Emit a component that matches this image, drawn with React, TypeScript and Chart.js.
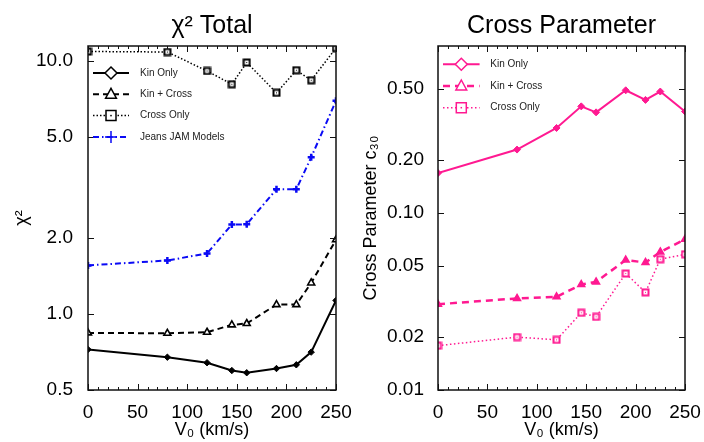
import React, { useEffect, useRef } from 'react';
import { Chart, registerables } from 'chart.js';

Chart.register(...registerables);

// ---- data ----
const V0 = [0, 80, 120, 145, 160, 190, 210, 225, 250];

const chiKinOnly = [0.723, 0.674, 0.641, 0.597, 0.585, 0.608, 0.629, 0.706, 1.13];
const chiKinCross = [0.841, 0.838, 0.846, 0.905, 0.916, 1.088, 1.088, 1.325, 1.963];
const chiCrossOnly = [10.9, 10.85, 9.13, 8.09, 9.86, 7.48, 9.19, 8.39, 11.25];
const chiJeans = [1.555, 1.626, 1.733, 2.256, 2.26, 3.11, 3.11, 4.16, 6.96];

const c30KinOnly = [0.168, 0.228, 0.302, 0.4, 0.37, 0.493, 0.435, 0.485, 0.374];
const c30KinCross = [0.0305, 0.0329, 0.0336, 0.0394, 0.0408, 0.0542, 0.0525, 0.0602, 0.071];
const c30CrossOnly = [0.0178, 0.0199, 0.0192, 0.0273, 0.0259, 0.0455, 0.0356, 0.0548, 0.0584];

const chiTicks = [0.5, 1, 2, 5, 10];
const c30Ticks = [0.01, 0.02, 0.05, 0.1, 0.2, 0.5];

const leftLabels = ['Kin Only', 'Kin + Cross', 'Cross Only', 'Jeans JAM Models'];
const rightLabels = ['Kin Only', 'Kin + Cross', 'Cross Only'];

const FONT = "'Liberation Sans', Arial, Helvetica, sans-serif";
const BLUE = 'rgb(10,10,245)';
const PINK = 'rgb(255,25,145)';

function squareDot(color: string) {
  const c = document.createElement('canvas');
  c.width = 9;
  c.height = 9;
  const g = c.getContext('2d')!;
  g.fillStyle = '#fff';
  g.fillRect(1, 1, 7, 7);
  g.strokeStyle = color;
  g.lineWidth = 2;
  g.strokeRect(1.5, 1.5, 6, 6);
  g.fillStyle = color;
  g.fillRect(4, 4, 1, 1);
  return c;
}

function pts(ys: number[]) {
  return V0.map((v, i) => ({ x: v, y: ys[i] }));
}

function drawMarker(ctx: CanvasRenderingContext2D, kind: string, x: number, y: number, r: number, color: string) {
  ctx.save();
  ctx.setLineDash([]);
  ctx.strokeStyle = color;
  ctx.fillStyle = '#fff';
  ctx.lineWidth = 1.5;
  ctx.beginPath();
  if (kind === 'diamond') {
    ctx.moveTo(x, y - r);
    ctx.lineTo(x + r, y);
    ctx.lineTo(x, y + r);
    ctx.lineTo(x - r, y);
    ctx.closePath();
    ctx.fill();
    ctx.stroke();
  } else if (kind === 'triangle') {
    ctx.moveTo(x, y - r);
    ctx.lineTo(x + r * 0.9, y + r * 0.65);
    ctx.lineTo(x - r * 0.9, y + r * 0.65);
    ctx.closePath();
    ctx.fill();
    ctx.stroke();
  } else if (kind === 'square') {
    ctx.rect(x - r, y - r, 2 * r, 2 * r);
    ctx.fill();
    ctx.stroke();
    ctx.fillStyle = color;
    ctx.fillRect(x - 0.75, y - 0.75, 1.5, 1.5);
  } else if (kind === 'cross') {
    ctx.moveTo(x - r, y);
    ctx.lineTo(x + r, y);
    ctx.moveTo(x, y - r);
    ctx.lineTo(x, y + r);
    ctx.stroke();
  }
  ctx.restore();
}

const frameLegend = {
  id: 'frameLegend',
  afterDatasetsDraw(chart: any, _args: any, opts: any) {
    const { ctx, chartArea, scales } = chart;
    const { left, right, top, bottom } = chartArea;
    const xs = scales.x;
    const ys = scales.y;
    ctx.save();
    ctx.strokeStyle = '#111';
    ctx.lineWidth = 1;
    ctx.setLineDash([]);
    ctx.beginPath();
    for (let v = 0; v <= 250; v += 10) {
      const px = Math.round(xs.getPixelForValue(v)) + 0.5;
      const len = v % 50 === 0 ? 6 : 3;
      ctx.moveTo(px, bottom);
      ctx.lineTo(px, bottom - len);
      ctx.moveTo(px, top);
      ctx.lineTo(px, top + len);
    }
    for (const t of opts.yTicks) {
      const py = Math.round(ys.getPixelForValue(t)) + 0.5;
      ctx.moveTo(left, py);
      ctx.lineTo(left + 6, py);
      ctx.moveTo(right, py);
      ctx.lineTo(right - 6, py);
    }
    ctx.stroke();
    ctx.lineWidth = 1.5;
    ctx.strokeRect(left, top, right - left, bottom - top);

    // legend
    const L = opts.legend;
    ctx.font = `10px ${FONT}`;
    ctx.textBaseline = 'middle';
    ctx.textAlign = 'left';
    chart.data.datasets.forEach((ds: any, i: number) => {
      const y = top + L.y0 + i * L.dy;
      ctx.save();
      ctx.strokeStyle = ds.borderColor;
      ctx.lineWidth = ds.borderWidth;
      ctx.setLineDash(ds.borderDash || []);
      ctx.beginPath();
      ctx.moveTo(left + L.x0, y);
      ctx.lineTo(left + L.x1, y);
      ctx.stroke();
      ctx.restore();
      drawMarker(ctx, ds.legendMarker, left + L.mx, y, ds.legendMarker === 'square' ? 5 : 6, ds.borderColor);
      ctx.fillStyle = '#222';
      ctx.fillText(ds.label, left + L.tx, y);
    });
    ctx.restore();
  },
};

function makeConfig(p: any) {
  return {
    type: 'line',
    data: { datasets: p.datasets },
    plugins: [frameLegend],
    options: {
      animation: false,
      responsive: false,
      maintainAspectRatio: false,
      layout: { padding: { left: 0, right: p.padRight, top: 0, bottom: 0 } },
      plugins: {
        legend: { display: false },
        tooltip: { enabled: false },
        title: {
          display: true,
          fullSize: false,
          text: p.title,
          color: '#000',
          font: { family: FONT, size: 25, weight: 'normal' },
          padding: { top: 11, bottom: 5 },
        },
        frameLegend: { yTicks: p.yTicks, legend: p.legend },
      },
      scales: {
        x: {
          type: 'linear',
          min: 0,
          max: 250,
          ticks: {
            stepSize: 50,
            color: '#000',
            font: { family: FONT, size: 19 },
            padding: 3,
            maxRotation: 0,
            autoSkip: false,
          },
          grid: { display: false },
          border: { display: false },
          title: {
            display: true,
            text: 'V₀ (km/s)',
            color: '#000',
            font: { family: FONT, size: 18 },
            padding: { top: 0, bottom: 1 },
          },
          afterFit: (s: any) => {
            s.height = 52;
            s.paddingLeft = 0;
            s.paddingRight = 0;
          },
        },
        y: {
          type: 'logarithmic',
          min: p.yMin,
          max: p.yMax,
          afterBuildTicks: (s: any) => {
            s.ticks = p.yTicks.map((v: number) => ({ value: v }));
          },
          ticks: {
            color: '#000',
            font: { family: FONT, size: 19 },
            padding: p.yPad,
            callback: (v: any) => Number(v).toFixed(p.decimals),
          },
          grid: { display: false },
          border: { display: false },
          title: {
            display: true,
            text: p.yTitle,
            color: '#000',
            font: { family: FONT, size: 18 },
            padding: { top: p.yTitleTop, bottom: 0 },
          },
          afterFit: (s: any) => {
            s.width = p.yWidth;
            s.paddingTop = 0;
            s.paddingBottom = 0;
          },
        },
      },
    },
  } as any;
}

export default function App() {
  const leftRef = useRef<HTMLCanvasElement>(null);
  const rightRef = useRef<HTMLCanvasElement>(null);

  useEffect(() => {
    const common = { clip: 0, tension: 0, fill: false };
    const left = new Chart(
      leftRef.current!,
      makeConfig({
        title: 'χ² Total',
        yTitle: 'χ²',
        yMin: 0.5,
        yMax: 11.46,
        yTicks: chiTicks,
        decimals: 1,
        yWidth: 88,
        padRight: 16,
        yPad: 7,
        yTitleTop: 11,
        legend: { x0: 5, x1: 41, mx: 23, tx: 52, y0: 27, dy: 21.3 },
        datasets: [
          {
            ...common,
            label: leftLabels[0],
            data: pts(chiKinOnly),
            borderColor: '#000',
            backgroundColor: '#000',
            borderWidth: 2,
            pointStyle: 'rectRot',
            pointRadius: 3.2,
            pointBorderWidth: 1,
            legendMarker: 'diamond',
          },
          {
            ...common,
            label: leftLabels[1],
            data: pts(chiKinCross),
            borderColor: '#000',
            backgroundColor: '#fff',
            borderWidth: 2,
            borderDash: [6, 4],
            pointStyle: 'triangle',
            pointRadius: 4,
            pointBorderWidth: 1.6,
            legendMarker: 'triangle',
          },
          {
            ...common,
            label: leftLabels[2],
            data: pts(chiCrossOnly),
            borderColor: '#000',
            backgroundColor: '#fff',
            borderWidth: 1.5,
            borderDash: [1.5, 2],
            pointStyle: squareDot('#000'),
            legendMarker: 'square',
          },
          {
            ...common,
            label: leftLabels[3],
            data: pts(chiJeans),
            borderColor: BLUE,
            backgroundColor: BLUE,
            borderWidth: 2,
            borderDash: [6, 3, 1.5, 3],
            pointStyle: 'cross',
            pointRadius: 3.5,
            pointBorderWidth: 2.5,
            legendMarker: 'cross',
          },
        ],
      })
    );
    const right = new Chart(
      rightRef.current!,
      makeConfig({
        title: 'Cross Parameter',
        yTitle: 'Cross Parameter c₃₀',
        yMin: 0.01,
        yMax: 0.877,
        yTicks: c30Ticks,
        decimals: 2,
        yWidth: 86,
        padRight: 19,
        yPad: 6,
        yTitleTop: 8,
        legend: { x0: 5, x1: 41.6, mx: 23.3, tx: 52.3, y0: 18.3, dy: 21.7 },
        datasets: [
          {
            ...common,
            label: rightLabels[0],
            data: pts(c30KinOnly),
            borderColor: PINK,
            backgroundColor: PINK,
            borderWidth: 2,
            pointStyle: 'rectRot',
            pointRadius: 3.5,
            pointBorderWidth: 1,
            legendMarker: 'diamond',
          },
          {
            ...common,
            label: rightLabels[1],
            data: pts(c30KinCross),
            borderColor: PINK,
            backgroundColor: PINK,
            borderWidth: 2.5,
            borderDash: [7, 5],
            pointStyle: 'triangle',
            pointRadius: 4,
            pointBorderWidth: 1.5,
            legendMarker: 'triangle',
          },
          {
            ...common,
            label: rightLabels[2],
            data: pts(c30CrossOnly),
            borderColor: PINK,
            backgroundColor: '#fff',
            borderWidth: 1.5,
            borderDash: [1.5, 2.5],
            pointStyle: squareDot(PINK),
            legendMarker: 'square',
          },
        ],
      })
    );
    return () => {
      left.destroy();
      right.destroy();
    };
  }, []);

  return (
    <div
      style={{
        position: 'fixed',
        left: 0,
        top: 0,
        width: 704,
        height: 442,
        background: '#fff',
        display: 'flex',
      }}
    >
      <canvas ref={leftRef} width={352} height={442} style={{ display: 'block', width: 352, height: 442 }} />
      <canvas ref={rightRef} width={352} height={442} style={{ display: 'block', width: 352, height: 442 }} />
    </div>
  );
}
